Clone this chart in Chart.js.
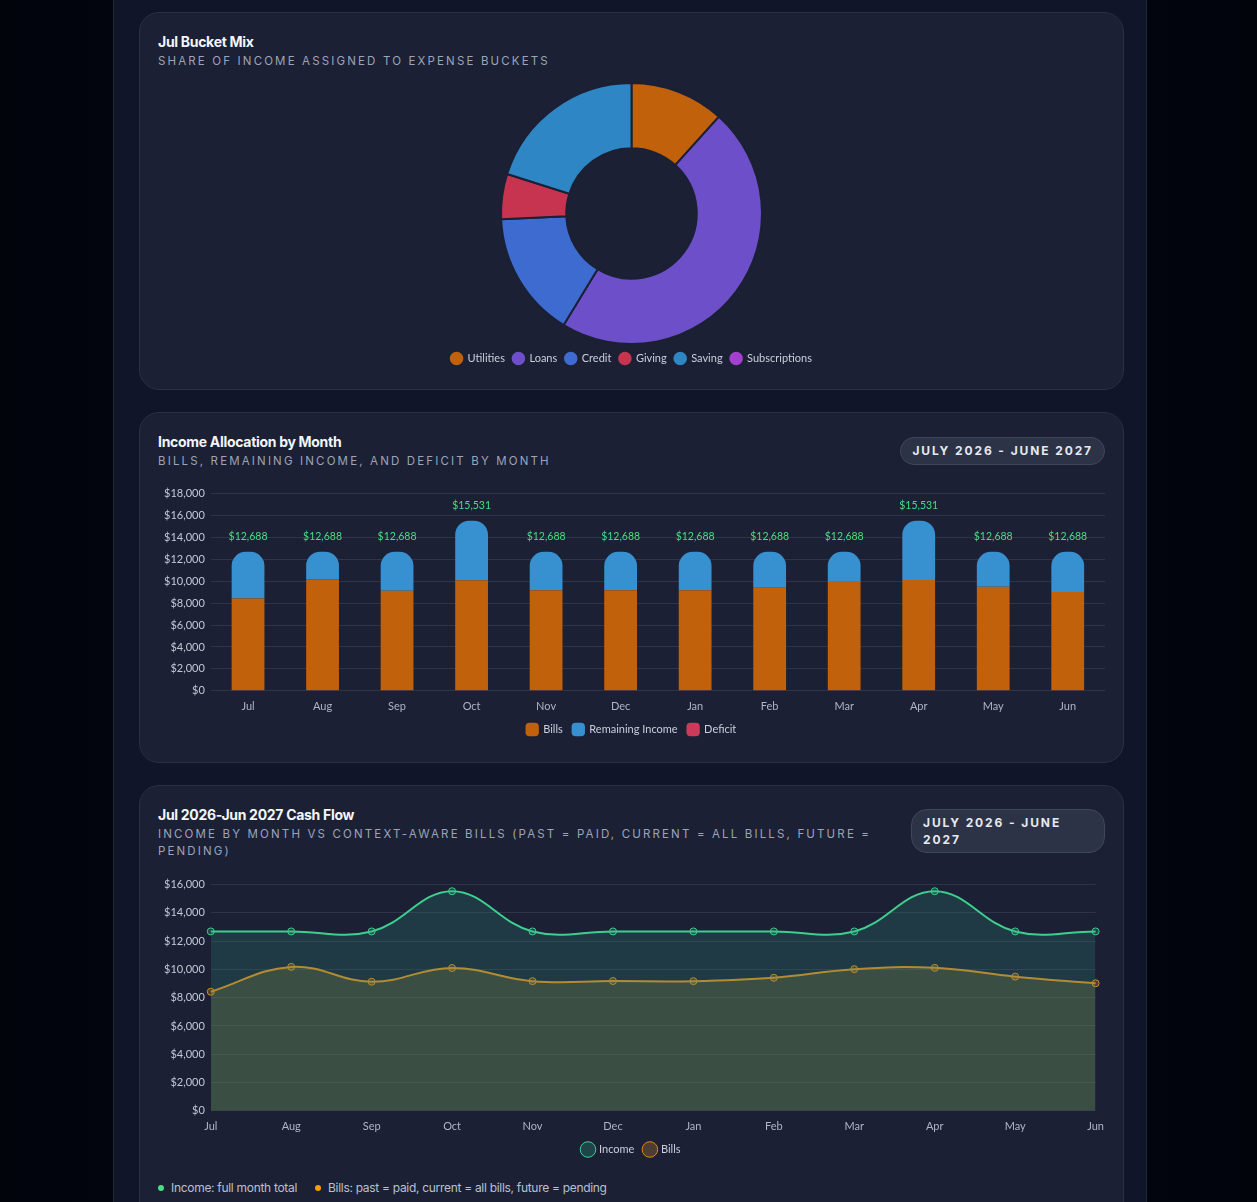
<!DOCTYPE html>
<html>
<head>
<meta charset="utf-8">
<script src="https://cdn.jsdelivr.net/npm/chart.js@4.4.1/dist/chart.umd.min.js"></script>
<style>
  html, body { margin: 0; padding: 0; }
  body {
    width: 1257px; height: 1202px; overflow: hidden;
    background: linear-gradient(90deg, #02040c 0%, #050914 50%, #02040c 100%);
    font-family: "Inter", "Noto Sans", sans-serif;
  }
  .wrap {
    position: absolute; left: 113px; top: 0; width: 1034px; height: 1202px;
    background: #10152a;
    border-left: 1px solid #222839; border-right: 1px solid #222839;
    padding: 12px 25px 0 25px; box-sizing: border-box;
  }
  .card {
    background: #1b2034;
    border: 1px solid #2a3044;
    border-radius: 20px;
    padding: 20px 18px 12px 18px;
    margin-bottom: 22px;
    box-sizing: border-box;
    width: 985px;
  }
  .head { display: flex; justify-content: space-between; align-items: flex-start; gap: 24px; }
  .title { color: #f3f5fa; font-weight: 700; font-size: 14px; letter-spacing: -0.3px; line-height: 18px; }
  .sub { color: #9ca4b9; font-size: 11.5px; letter-spacing: 2.15px; text-transform: uppercase; margin-top: 2px; line-height: 17px; }
  .badge {
    background: #2d3346; border: 1px solid #40475a; border-radius: 16px;
    color: #e6e9f0; font-weight: 700; font-size: 12px; letter-spacing: 1.9px;
    padding: 5px 11px; white-space: nowrap; margin-top: 4px; line-height: 16px;
  }
  .badge.wrapb { white-space: normal; width: 170px; padding: 4px 11px; line-height: 17px; margin-top: 3px; flex: none; }
  .chart { position: relative; }
  .notes { color: #b9c0cf; font-size: 12px; margin-top: 15px; display: flex; gap: 18px; letter-spacing: -0.3px; }
  .notes span::before { content: ""; display: inline-block; width: 6px; height: 6px; border-radius: 50%; margin-right: 7px; vertical-align: middle; position: relative; top: -1px; }
  .notes .inc::before { background: #4ade80; }
  .notes .bil::before { background: #f59e0b; }
</style>
</head>
<body>
<div class="wrap">
  <div class="card" style="height:378px">
    <div class="head">
      <div>
        <div class="title">Jul Bucket Mix</div>
        <div class="sub">Share of income assigned to expense buckets</div>
      </div>
    </div>
    <div class="chart" style="height:300px; margin-top:4px"><canvas id="mixChart"></canvas></div>
  </div>

  <div class="card" style="height:351px">
    <div class="head">
      <div>
        <div class="title">Income Allocation by Month</div>
        <div class="sub">Bills, remaining income, and deficit by month</div>
      </div>
      <div class="badge">JULY 2026 - JUNE 2027</div>
    </div>
    <div class="chart" style="height:264px; margin-top:11px"><canvas id="allocChart"></canvas></div>
  </div>

  <div class="card" style="height:440px">
    <div class="head">
      <div>
        <div class="title">Jul 2026-Jun 2027 Cash Flow</div>
        <div class="sub">Income by month vs context-aware bills (past = paid, current = all bills, future = pending)</div>
      </div>
      <div class="badge wrapb">JULY 2026 - JUNE 2027</div>
    </div>
    <div class="chart" style="height:293px; margin-top:12px"><canvas id="flowChart"></canvas></div>
    <div class="notes"><span class="inc">Income: full month total</span><span class="bil">Bills: past = paid, current = all bills, future = pending</span></div>
  </div>
</div>

<script>
// ===== Datos =====
const buckets = ["Utilities", "Loans", "Credit", "Giving", "Saving", "Subscriptions"];
const bucketShare = [11.7, 47.0, 15.6, 5.6, 20.1, 0];
const bucketColors = ["#c2610c", "#6d4fc9", "#3d6bd0", "#c6344f", "#2f86c4", "#a340cf"];

const months = ["Jul", "Aug", "Sep", "Oct", "Nov", "Dec", "Jan", "Feb", "Mar", "Apr", "May", "Jun"];
const income = [12688, 12688, 12688, 15531, 12688, 12688, 12688, 12688, 12688, 15531, 12688, 12688];
const bills = [8420, 10180, 9130, 10100, 9170, 9180, 9170, 9410, 10020, 10110, 9490, 9020];
const remaining = [4268, 2508, 3558, 5431, 3518, 3508, 3518, 3278, 2668, 5421, 3198, 3668];
const deficit = [0, 0, 0, 0, 0, 0, 0, 0, 0, 0, 0, 0];

const money = v => "$" + Number(v).toLocaleString("en-US");

Chart.defaults.font.family = "Lato, 'Noto Sans', sans-serif";
Chart.defaults.font.size = 11;
Chart.defaults.color = "#b4bbcb";

const gridColor = "rgba(255,255,255,0.09)";

// ===== Gráfica 1: mezcla de cubetas =====
new Chart(document.getElementById("mixChart"), {
  type: "doughnut",
  data: {
    labels: buckets,
    datasets: [{
      data: bucketShare,
      backgroundColor: bucketColors,
      borderColor: "#1b2034",
      borderWidth: 2
    }]
  },
  options: {
    responsive: true,
    maintainAspectRatio: false,
    cutout: "50%",
    layout: { padding: { top: 8 } },
    plugins: {
      legend: {
        position: "bottom",
        labels: { usePointStyle: true, pointStyle: "circle", boxWidth: 13, boxHeight: 13, padding: 8, color: "#c9cfdc", font: { size: 11 } }
      },
      tooltip: { enabled: false }
    }
  }
});

// etiquetas sobre las barras
const totalsLabel = {
  id: "totalsLabel",
  afterDatasetsDraw(chart) {
    const { ctx, scales } = chart;
    const meta = chart.getDatasetMeta(1);
    ctx.save();
    ctx.fillStyle = "#4ade80";
    ctx.font = "10.5px Lato, sans-serif";
    ctx.textAlign = "center";
    ctx.textBaseline = "bottom";
    income.forEach((v, i) => {
      const x = meta.data[i].x;
      const y = scales.y.getPixelForValue(v);
      ctx.fillText(money(v), x, y - 10);
    });
    ctx.restore();
  }
};

// ===== Gráfica 2: asignación por mes =====
new Chart(document.getElementById("allocChart"), {
  type: "bar",
  data: {
    labels: months,
    datasets: [
      { label: "Bills", data: bills, backgroundColor: "#c2610c", stack: "s" },
      { label: "Remaining Income", data: remaining, backgroundColor: "#3790cf", stack: "s",
        borderRadius: { topLeft: 14, topRight: 14 }, borderSkipped: false },
      { label: "Deficit", data: deficit, backgroundColor: "#cf3a5a", stack: "s" }
    ]
  },
  options: {
    responsive: true,
    maintainAspectRatio: false,
    barPercentage: 0.44,
    categoryPercentage: 1,
    scales: {
      x: { stacked: true, grid: { display: false }, border: { display: false }, ticks: { color: "#aeb5c6", padding: 1 } },
      y: { stacked: true, min: 0, max: 18000, ticks: { stepSize: 2000, callback: v => money(v), color: "#c3c9d6", padding: 6 },
           grid: { color: gridColor, drawTicks: false }, border: { display: false } }
    },
    plugins: {
      legend: {
        position: "bottom",
        labels: { usePointStyle: true, pointStyle: "rectRounded", boxWidth: 13, boxHeight: 13, padding: 10, color: "#c9cfdc" }
      },
      tooltip: { enabled: false }
    }
  },
  plugins: [totalsLabel]
});

// ===== Gráfica 3: flujo de caja =====
new Chart(document.getElementById("flowChart"), {
  type: "line",
  data: {
    labels: months,
    datasets: [
      { label: "Income", data: income, borderColor: "#3ecf8e", backgroundColor: "rgba(45,150,130,0.22)",
        fill: "origin", tension: 0.4, borderWidth: 2, pointRadius: 3.5, pointBorderWidth: 1,
        pointBackgroundColor: "rgba(52,170,140,0.25)", pointBorderColor: "#3ecf8e" },
      { label: "Bills", data: bills, borderColor: "#d98a1c", backgroundColor: "rgba(150,120,50,0.30)",
        fill: "origin", tension: 0.4, borderWidth: 2, pointRadius: 3.5, pointBorderWidth: 1,
        pointBackgroundColor: "rgba(200,130,40,0.3)", pointBorderColor: "#d98a1c" }
    ]
  },
  options: {
    responsive: true,
    maintainAspectRatio: false,
    scales: {
      x: { offset: false, grid: { display: false }, border: { display: false }, ticks: { color: "#aeb5c6", padding: 1 } },
      y: { min: 0, max: 16000, ticks: { stepSize: 2000, callback: v => money(v), color: "#c3c9d6", padding: 6 },
           grid: { color: gridColor, drawTicks: false }, border: { display: false } }
    },
    plugins: {
      legend: {
        position: "bottom",
        labels: { usePointStyle: true, pointStyle: "circle", boxWidth: 16, boxHeight: 16, padding: 10, color: "#c9cfdc" }
      },
      tooltip: { enabled: false }
    }
  }
});
</script>
</body>
</html>
